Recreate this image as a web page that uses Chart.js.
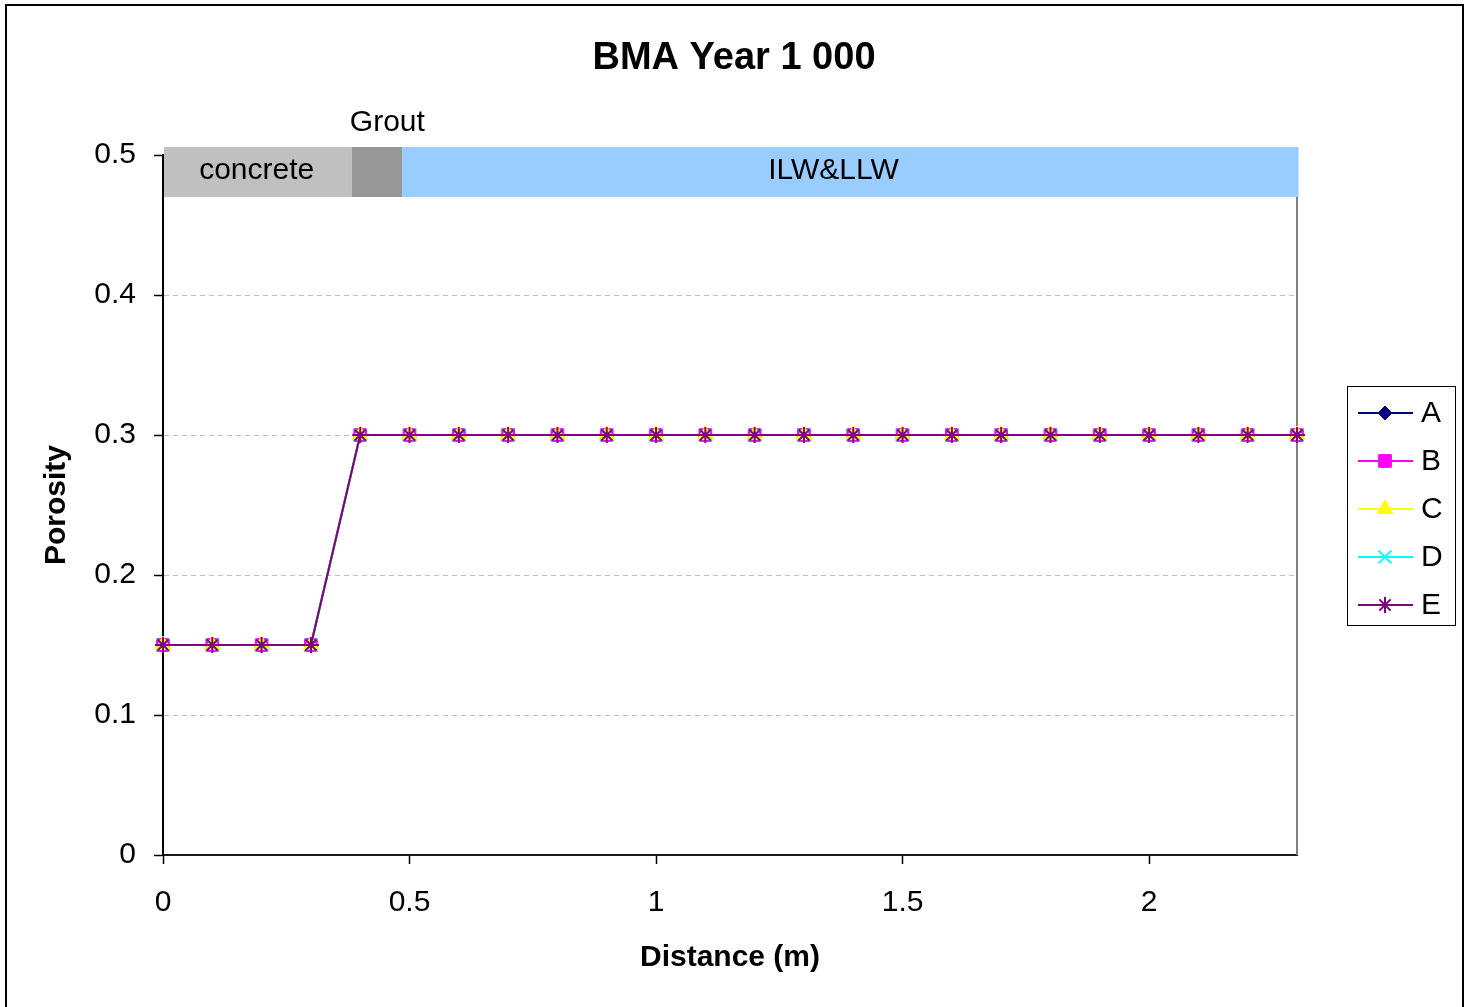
<!DOCTYPE html>
<html>
<head>
<meta charset="utf-8">
<title>BMA Year 1 000</title>
<script src="https://cdn.jsdelivr.net/npm/chart.js@4/dist/chart.umd.min.js"></script>
<style>
  html, body { margin: 0; padding: 0; background: #fff; }
  canvas { display: block; }
</style>
</head>
<body>
<canvas id="chart" width="1470" height="1007"></canvas>
<script>
// Porosity profile along the distance from the outer concrete wall
const distance = [0, 0.1, 0.2, 0.3, 0.4, 0.5, 0.6, 0.7, 0.8, 0.9, 1.0, 1.1,
                  1.2, 1.3, 1.4, 1.5, 1.6, 1.7, 1.8, 1.9, 2.0, 2.1, 2.2, 2.3];
const seriesA = [0.15, 0.15, 0.15, 0.15, 0.3, 0.3, 0.3, 0.3, 0.3, 0.3, 0.3, 0.3,
                 0.3, 0.3, 0.3, 0.3, 0.3, 0.3, 0.3, 0.3, 0.3, 0.3, 0.3, 0.3];
const seriesB = [0.15, 0.15, 0.15, 0.15, 0.3, 0.3, 0.3, 0.3, 0.3, 0.3, 0.3, 0.3,
                 0.3, 0.3, 0.3, 0.3, 0.3, 0.3, 0.3, 0.3, 0.3, 0.3, 0.3, 0.3];
const seriesC = [0.15, 0.15, 0.15, 0.15, 0.3, 0.3, 0.3, 0.3, 0.3, 0.3, 0.3, 0.3,
                 0.3, 0.3, 0.3, 0.3, 0.3, 0.3, 0.3, 0.3, 0.3, 0.3, 0.3, 0.3];
const seriesD = [0.15, 0.15, 0.15, 0.15, 0.3, 0.3, 0.3, 0.3, 0.3, 0.3, 0.3, 0.3,
                 0.3, 0.3, 0.3, 0.3, 0.3, 0.3, 0.3, 0.3, 0.3, 0.3, 0.3, 0.3];
const seriesE = [0.15, 0.15, 0.15, 0.15, 0.3, 0.3, 0.3, 0.3, 0.3, 0.3, 0.3, 0.3,
                 0.3, 0.3, 0.3, 0.3, 0.3, 0.3, 0.3, 0.3, 0.3, 0.3, 0.3, 0.3];
const seriesNames = ['A', 'B', 'C', 'D', 'E'];

const xTickValues = [0, 0.5, 1, 1.5, 2];
const yTickValues = [0, 0.1, 0.2, 0.3, 0.4, 0.5];

const chartTitle = 'BMA Year 1 000';

// Material zones along the distance axis (m)
const zoneNames = ['concrete', 'Grout', 'ILW&LLW'];
const zoneEdges = [0, 0.383, 0.485, 2.3];

// ---- drawing styles ----
const FONT = '"Liberation Sans", Arial, sans-serif';
const zoneStyle = {
  colors: ['#c0c0c0', '#969696', '#99ccff'],
  labelX: [0.19, 0.455, 1.36],   // label anchor along the axis
  labelAbove: [false, true, false]
};
const seriesStyle = [
  { color: '#000080', point: 'rectRot',  radius: 7, width: 1 },
  { color: '#ff00ff', point: 'rect',     radius: 9, width: 1 },
  { color: '#ffff00', point: 'triangle', radius: 9, width: 1 },
  { color: '#00ffff', point: 'crossRot', radius: 9, width: 2 },
  { color: '#800080', point: 'star',     radius: 8, width: 2 }
];
const seriesValues = [seriesA, seriesB, seriesC, seriesD, seriesE];

const datasets = seriesNames.map((name, i) => ({
  label: name,
  data: distance.map((d, k) => ({ x: d, y: seriesValues[i][k] })),
  borderColor: seriesStyle[i].color,
  backgroundColor: seriesStyle[i].color,
  borderWidth: 2,
  pointStyle: seriesStyle[i].point,
  pointRadius: seriesStyle[i].radius,
  pointHoverRadius: seriesStyle[i].radius,
  pointBackgroundColor: seriesStyle[i].color,
  pointBorderColor: seriesStyle[i].color,
  pointBorderWidth: seriesStyle[i].width,
  tension: 0,
  clip: false,
  order: seriesNames.length - i   // last series painted on top
}));

// Zone bar across the top of the plot, plus the plot's right frame
const zonePlugin = {
  id: 'zones',
  beforeDatasetsDraw(chart) {
    const { ctx, chartArea, scales: { x, y } } = chart;
    const top = y.getPixelForValue(0.5) - 8;
    const bottom = y.getPixelForValue(0.47);
    ctx.save();
    ctx.strokeStyle = '#808080';
    ctx.lineWidth = 2;
    ctx.beginPath();
    ctx.moveTo(chartArea.right, bottom);
    ctx.lineTo(chartArea.right, chartArea.bottom);
    ctx.stroke();

    zoneNames.forEach((name, i) => {
      const x0 = x.getPixelForValue(zoneEdges[i]) + (i === 0 ? 1 : 0);
      const x1 = x.getPixelForValue(zoneEdges[i + 1]) + (i === zoneNames.length - 1 ? 1.5 : 0);
      ctx.fillStyle = zoneStyle.colors[i];
      ctx.fillRect(x0, top, x1 - x0, bottom - top);
    });
    ctx.fillStyle = '#000';
    ctx.font = '30px ' + FONT;
    ctx.textAlign = 'center';
    ctx.textBaseline = 'middle';
    zoneNames.forEach((name, i) => {
      const lx = x.getPixelForValue(zoneStyle.labelX[i]);
      const ly = zoneStyle.labelAbove[i] ? top - 24 : (top + bottom) / 2 - 1;
      ctx.fillText(name, lx, ly);
    });
    ctx.restore();
  }
};

// Title, boxed legend on the right and the outer frame
const framePlugin = {
  id: 'frame',
  afterDraw(chart) {
    const { ctx } = chart;
    ctx.save();
    ctx.fillStyle = '#000';
    ctx.font = 'bold 38px ' + FONT;
    ctx.textAlign = 'center';
    ctx.textBaseline = 'middle';
    ctx.fillText(chartTitle, 734, 59);

    ctx.strokeStyle = '#000';
    ctx.lineWidth = 1;
    ctx.strokeRect(1347.5, 386.5, 108, 239);

    chart.data.datasets.forEach((ds, i) => {
      const cy = 413 + i * 48;
      ctx.strokeStyle = ds.borderColor;
      ctx.lineWidth = 2;
      ctx.beginPath();
      ctx.moveTo(1358, cy);
      ctx.lineTo(1413, cy);
      ctx.stroke();
      ctx.fillStyle = ds.pointBackgroundColor;
      ctx.strokeStyle = ds.pointBorderColor;
      ctx.lineWidth = ds.pointBorderWidth;
      Chart.helpers.drawPoint(ctx, {
        pointStyle: ds.pointStyle, radius: ds.pointRadius,
        rotation: 0, borderWidth: ds.pointBorderWidth
      }, 1385, cy);
      ctx.fillStyle = '#000';
      ctx.font = '30px ' + FONT;
      ctx.textAlign = 'left';
      ctx.textBaseline = 'middle';
      ctx.fillText(ds.label, 1421, cy + 1);
    });

    ctx.strokeStyle = '#000';
    ctx.lineWidth = 2;
    ctx.strokeRect(6, 5, 1457, 1010);
    ctx.restore();
  }
};

Chart.defaults.font.family = FONT;
Chart.defaults.color = '#000';

new Chart(document.getElementById('chart'), {
  type: 'line',
  data: { datasets },
  plugins: [zonePlugin, framePlugin],
  options: {
    responsive: false,
    animation: false,
    events: [],
    layout: { padding: { top: 155, right: 173, bottom: 0, left: 0 } },
    plugins: {
      legend: { display: false },
      tooltip: { enabled: false },
      title: { display: false }
    },
    scales: {
      x: {
        type: 'linear',
        min: 0,
        max: 2.3,
        afterBuildTicks: s => { s.ticks = xTickValues.map(v => ({ value: v })); },
        afterFit: s => { s.height = 152; },
        ticks: {
          color: '#000',
          font: { size: 30 },
          padding: 21,
          maxRotation: 0,
          callback: v => String(v)
        },
        grid: {
          drawOnChartArea: false,
          drawTicks: true,
          tickLength: 9,
          tickColor: '#000',
          tickWidth: 1.5
        },
        border: { display: true, color: '#1a1a1a', width: 2 },
        title: {
          display: true,
          text: 'Distance (m)',
          color: '#000',
          font: { size: 30, weight: 'bold', lineHeight: 1.2 },
          padding: { top: 0, bottom: 31 }
        }
      },
      y: {
        type: 'linear',
        min: 0,
        max: 0.5,
        afterBuildTicks: s => { s.ticks = yTickValues.map(v => ({ value: v })); },
        afterFit: s => { s.width = 163; },
        ticks: {
          color: '#000',
          font: { size: 30 },
          padding: 18,
          callback: v => String(v)
        },
        grid: {
          color: '#c0c0c0',
          lineWidth: 1,
          drawTicks: true,
          tickLength: 9,
          tickColor: '#000',
          tickWidth: 1.5,
          tickBorderDash: []
        },
        border: { display: true, color: '#000', width: 2, dash: [5, 4] },
        title: {
          display: true,
          text: 'Porosity',
          color: '#000',
          font: { size: 30, weight: 'bold', lineHeight: 1.2 },
          padding: { top: 39, bottom: 0 }
        }
      }
    }
  }
});
</script>
</body>
</html>
